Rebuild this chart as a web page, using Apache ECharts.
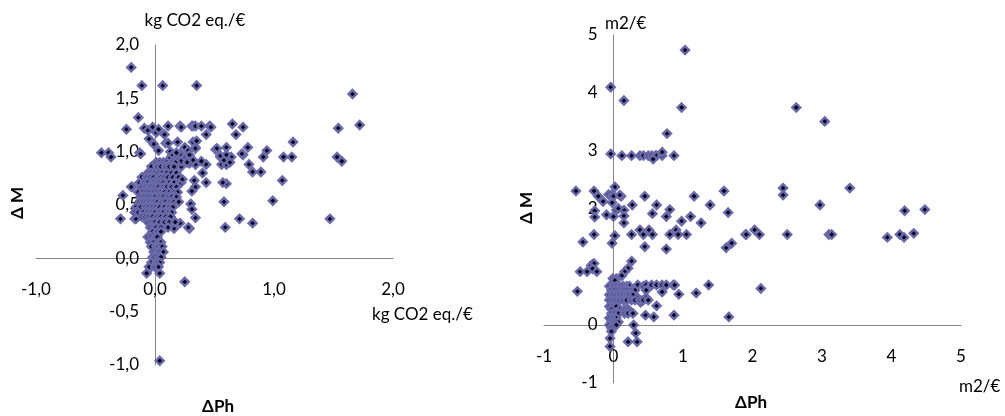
<!DOCTYPE html>
<html>
<head>
<meta charset="utf-8">
<script src="https://cdn.jsdelivr.net/npm/echarts@6/dist/echarts.min.js"></script>
<style>
  html, body { margin: 0; padding: 0; background: #fff; }
  #chart-container { width: 1005px; height: 416px; }
</style>
</head>
<body>
<div id="chart-container"></div>
<script>
// left panel: kg CO2 eq./€  [ΔPh, ΔM]
const ghgPoints = [
  [-0.20, 1.79], [-0.11, 1.62], [0.065, 1.62], [0.35, 1.62], [1.66, 1.54], [1.72, 1.25], [1.54, 1.22],
  [-0.14, 1.32], [-0.24, 1.21], [-0.09, 1.22], [-0.06, 1.20], [-0.02, 1.23], [0.01, 1.18], [0.03, 1.21],
  [0.08, 1.16], [0.11, 1.24], [0.21, 1.24], [0.22, 1.23], [0.31, 1.24], [0.32, 1.24], [0.34, 1.24],
  [0.39, 1.24], [0.46, 1.24], [0.47, 1.23], [0.43, 1.16], [0.65, 1.26], [0.74, 1.23], [0.68, 1.16],
  [1.16, 1.09], [1.53, 0.95], [1.57, 0.91], [1.47, 0.37], [1.08, 0.95], [1.15, 0.95], [1.07, 0.73],
  [0.99, 0.54], [0.94, 1.01], [0.91, 0.95], [0.89, 0.81], [0.82, 0.81], [0.79, 0.88], [0.78, 1.04],
  [0.74, 0.97], [0.73, 0.98], [0.82, 0.33], [0.71, 0.37], [0.59, 0.29], [0.58, 0.53], [0.60, 0.70],
  [0.57, 0.71], [0.60, 1.04], [0.64, 0.95], [0.55, 0.95], [0.56, 0.88], [0.60, 0.88], [0.51, 1.02],
  [0.43, 0.88], [0.39, 0.91], [0.40, 0.80], [0.43, 0.71], [0.34, 0.67], [0.33, 0.73], [0.31, 0.63],
  [0.30, 0.51], [0.31, 0.46], [0.34, 0.38], [0.29, 0.28], [0.21, 0.33], [0.16, 0.28], [0.25, -0.22],
  [0.04, -0.96], [-0.07, -0.14], [0.04, -0.14], [-0.03, -0.08],
  [-0.45, 0.99], [-0.39, 0.99], [-0.37, 0.95], [-0.13, 0.99], [-0.27, 0.59], [-0.29, 0.37],
  [-0.19, 0.67], [-0.17, 0.37], [-0.16, 0.37],
  [-0.05, 1.12], [-0.01, 1.07], [0.09, 1.08], [0.11, 1.08], [0.19, 1.09], [0.03, 1.01], [-0.12, 0.98],
  [0.25, 1.04], [0.28, 1.01], [0.32, 1.09], [0.34, 1.04], [0.35, 1.10], [0.34, 1.03], [0.22, 0.95],
  [0.26, 0.95], [0.29, 0.95], [0.21, 0.98], [0.34, 0.88], [0.29, 0.89], [0.22, 0.86], [0.13, 1.00],
  [0.52, 1.03], [0.55, 0.96], [0.58, 0.92], [0.60, 0.97], [0.63, 0.90],
  [0.14, 0.96], [0.17, 0.93], [0.22, 0.91], [0.29, 0.97], [0.32, 0.92], [0.27, 0.90], [0.18, 0.99],
  [0.15, 0.90], [0.12, 0.93],
  // dense cluster
  [0.01, 0.90], [0.04, 0.90], [0.07, 0.90], [0.10, 0.90], [0.14, 0.90], [0.17, 0.90],
  [-0.03, 0.86], [0.02, 0.86], [0.05, 0.86], [0.09, 0.86], [0.12, 0.86], [0.16, 0.86],
  [-0.06, 0.80], [-0.03, 0.80], [0.00, 0.80], [0.03, 0.80], [0.06, 0.80], [0.10, 0.80], [0.14, 0.80], [0.18, 0.80],
  [-0.11, 0.76], [-0.07, 0.76], [-0.04, 0.76], [-0.01, 0.76], [0.03, 0.76], [0.05, 0.76], [0.08, 0.76],
  [0.11, 0.76], [0.15, 0.76], [0.20, 0.76],
  [-0.13, 0.71], [-0.09, 0.71], [-0.06, 0.71], [-0.02, 0.71], [0.01, 0.71], [0.04, 0.71], [0.07, 0.71],
  [0.12, 0.71], [0.16, 0.71], [0.22, 0.71], [0.23, 0.74],
  [-0.20, 0.67], [-0.11, 0.67], [-0.08, 0.67], [-0.05, 0.67], [-0.03, 0.67], [0.00, 0.67], [0.03, 0.67],
  [0.07, 0.67], [0.10, 0.67], [0.14, 0.67], [0.18, 0.67],
  [-0.14, 0.62], [-0.10, 0.62], [-0.07, 0.62], [-0.04, 0.62], [-0.01, 0.62], [0.02, 0.62], [0.05, 0.62],
  [0.08, 0.62], [0.12, 0.62], [0.16, 0.62], [0.19, 0.62],
  [-0.12, 0.575], [-0.09, 0.575], [-0.06, 0.575], [-0.03, 0.575], [0.00, 0.575], [0.04, 0.575],
  [0.07, 0.575], [0.11, 0.575], [0.14, 0.575], [0.18, 0.575],
  [-0.13, 0.53], [-0.10, 0.53], [-0.07, 0.53], [-0.04, 0.53], [-0.01, 0.53], [0.02, 0.53], [0.06, 0.53],
  [0.09, 0.53], [0.13, 0.53], [0.16, 0.53], [0.20, 0.53],
  [-0.16, 0.48], [-0.12, 0.48], [-0.08, 0.48], [-0.05, 0.48], [-0.02, 0.48], [0.01, 0.48], [0.04, 0.48],
  [0.08, 0.48], [0.12, 0.48], [0.15, 0.48],
  [-0.17, 0.43], [-0.14, 0.43], [-0.10, 0.43], [-0.06, 0.43], [-0.03, 0.43], [0.00, 0.43], [0.04, 0.43],
  [0.07, 0.43], [0.11, 0.43], [0.14, 0.43],
  [-0.11, 0.39], [-0.08, 0.39], [-0.05, 0.39], [-0.02, 0.39], [0.02, 0.39], [0.05, 0.39], [0.09, 0.39], [0.13, 0.39],
  [-0.06, 0.34], [-0.03, 0.34], [0.00, 0.34], [0.04, 0.34], [0.08, 0.34], [0.12, 0.34], [0.17, 0.34],
  [-0.04, 0.29], [-0.01, 0.29], [0.01, 0.29], [0.05, 0.29], [0.11, 0.29], [0.28, 0.29],
  [-0.02, 0.25], [0.02, 0.25], [0.05, 0.25],
  [-0.06, 0.20], [-0.03, 0.20], [0.00, 0.20], [0.02, 0.20],
  [-0.04, 0.15], [-0.01, 0.15], [0.03, 0.15], [0.05, 0.15],
  [-0.03, 0.11], [0.01, 0.11], [0.03, 0.11], [0.06, 0.11],
  [-0.01, 0.06], [0.02, 0.06], [0.04, 0.06], [0.07, 0.06],
  [-0.02, 0.01], [0.00, 0.01], [0.03, 0.01], [0.05, 0.01],
  [-0.03, -0.04], [0.01, -0.04], [0.04, -0.04],
  [-0.05, -0.08], [0.00, -0.08], [0.03, -0.08]
];

// right panel: m2/€  [ΔPh, ΔM]
const landPoints = [
  [1.03, 4.74], [-0.04, 4.10], [0.15, 3.87], [0.98, 3.75], [2.63, 3.75], [3.04, 3.51], [0.77, 3.30],
  [-0.04, 2.95], [0.12, 2.92], [0.26, 2.92], [0.38, 2.92], [0.43, 2.92], [0.50, 2.92], [0.55, 2.92],
  [0.60, 2.92], [0.62, 2.92], [0.70, 2.92], [0.87, 2.92], [0.57, 2.86], [0.70, 2.98],
  [-0.54, 2.31], [-0.28, 2.31], [-0.22, 2.22], [-0.15, 2.13], [-0.27, 1.97], [-0.27, 1.86], [-0.10, 1.90],
  [-0.07, 2.25], [-0.02, 2.25], [0.02, 2.38], [0.00, 2.22], [0.11, 2.22], [-0.02, 2.11], [0.04, 1.98],
  [0.00, 1.87], [0.15, 1.98], [0.15, 1.88], [0.15, 1.76], [0.27, 2.07], [0.45, 2.22], [0.62, 2.07],
  [0.56, 1.92], [0.81, 1.99], [0.76, 1.87], [0.98, 1.79], [1.11, 1.87], [1.16, 2.22], [1.39, 2.07],
  [1.26, 1.76], [1.59, 2.31], [1.65, 1.94], [2.44, 2.36], [2.44, 2.24], [2.97, 2.07], [3.40, 2.36],
  [4.19, 1.97], [4.48, 1.99], [0.09, 2.24], [0.07, 2.01],
  [-0.28, 1.56], [0.02, 1.54], [0.26, 1.56], [0.38, 1.64], [0.43, 1.56], [0.51, 1.64], [0.56, 1.56],
  [0.81, 1.56], [0.90, 1.64], [0.93, 1.56], [1.05, 1.56], [1.90, 1.56], [1.91, 1.56], [2.03, 1.64],
  [2.10, 1.56], [2.50, 1.56], [3.10, 1.56], [3.14, 1.56], [3.94, 1.51], [4.12, 1.56], [4.18, 1.51],
  [4.32, 1.58],
  [-0.02, 1.41], [-0.44, 1.43], [0.45, 1.35], [0.76, 1.31], [1.62, 1.33], [1.70, 1.41], [0.26, 1.10],
  [0.21, 0.98], [0.16, 0.92], [0.12, 0.85],
  [-0.32, 1.03], [-0.28, 1.06], [-0.30, 0.97], [-0.48, 0.92], [-0.38, 0.92], [-0.24, 0.92], [-0.52, 0.58],
  [0.35, 0.69], [0.43, 0.67], [0.47, 0.69], [0.55, 0.69], [0.62, 0.69], [0.70, 0.69], [0.76, 0.69],
  [0.86, 0.69], [0.88, 0.69], [1.37, 0.69], [0.70, 0.57], [0.94, 0.53], [1.19, 0.55], [2.12, 0.63],
  [0.47, 0.60], [0.33, 0.49], [0.39, 0.39], [0.47, 0.47], [0.62, 0.33], [0.46, 0.17], [0.58, 0.14],
  [0.87, 0.17], [1.66, 0.14], [0.29, 0.00], [0.32, -0.14], [0.34, -0.29], [0.21, -0.29],
  [-0.05, -0.23], [-0.05, -0.37],
  // dense cluster
  [-0.01, 0.80], [0.04, 0.80], [0.02, 0.77],
  [-0.06, 0.67], [-0.01, 0.67], [0.04, 0.67], [0.09, 0.67], [0.14, 0.67], [0.19, 0.67], [0.23, 0.67],
  [-0.03, 0.60], [0.02, 0.60], [0.07, 0.60], [0.12, 0.60], [0.16, 0.60], [0.21, 0.60], [0.26, 0.60], [0.31, 0.60],
  [-0.06, 0.52], [-0.01, 0.52], [0.04, 0.52], [0.09, 0.52], [0.14, 0.52], [0.19, 0.52], [0.23, 0.52], [0.28, 0.52],
  [-0.06, 0.43], [-0.01, 0.43], [0.04, 0.43], [0.09, 0.43], [0.14, 0.43], [0.19, 0.43], [0.26, 0.43],
  [0.31, 0.43], [0.38, 0.43], [0.43, 0.43], [0.50, 0.43],
  [-0.06, 0.32], [-0.01, 0.32], [0.04, 0.32],
  [-0.03, 0.27], [0.09, 0.27], [0.16, 0.27], [0.21, 0.27], [0.23, 0.24],
  [-0.03, 0.20], [0.02, 0.20], [0.07, 0.20], [0.16, 0.20], [0.21, 0.20], [0.28, 0.20],
  [-0.06, 0.12], [-0.01, 0.12], [0.04, 0.12],
  [-0.03, 0.05], [0.02, 0.05], [0.07, 0.05],
  [-0.06, 0.00], [-0.01, 0.00], [0.04, 0.00],
  [-0.03, -0.05], [-0.03, -0.11]
];

const ghgRange = { xMin: -1, xMax: 2, xStep: 1, yMin: -1, yMax: 2, yStep: 0.5 };
const landRange = { xMin: -1, xMax: 5, xStep: 1, yMin: -1, yMax: 5, yStep: 1 };

const FONT = 'Lato';
const axisGrey = '#868686';

// plot boxes in pixels, used to put the axes through the origin
const ghgBox = { left: 36, top: 45, width: 357, height: 320 };
const landBox = { left: 544, top: 35, width: 417, height: 348 };

function commaFmt(v) {
  return v.toFixed(1).replace('.', ',');
}

// pixel distance from the bottom / left edge to the zero line
function zeroShiftX(box, r) {
  return box.height * (0 - r.yMin) / (r.yMax - r.yMin);
}
function zeroShiftY(box, r) {
  return box.width * (0 - r.xMin) / (r.xMax - r.xMin);
}

function xAxisOf(idx, r, box, fmt) {
  return {
    type: 'value', gridIndex: idx, min: r.xMin, max: r.xMax, interval: r.xStep,
    position: 'bottom', offset: -zeroShiftX(box, r),
    splitLine: { show: false },
    axisTick: { show: false },
    axisLine: { onZero: false, lineStyle: { color: axisGrey, width: 1 } },
    axisLabel: { margin: 23, color: '#000', fontFamily: FONT, fontSize: 17, formatter: fmt }
  };
}

function yAxisOf(idx, r, box, fmt) {
  return {
    type: 'value', gridIndex: idx, min: r.yMin, max: r.yMax, interval: r.yStep,
    position: 'left', offset: -zeroShiftY(box, r),
    splitLine: { show: false },
    axisTick: { show: false },
    axisLine: { onZero: false, lineStyle: { color: axisGrey, width: 1 } },
    axisLabel: { margin: 16, color: '#000', fontFamily: FONT, fontSize: 17, formatter: fmt }
  };
}

function seriesOf(idx, data) {
  return {
    type: 'scatter', xAxisIndex: idx, yAxisIndex: idx,
    data: data,
    symbol: 'diamond',
    symbolSize: 8,
    itemStyle: { color: '#000018', borderColor: '#6a6aaa', borderWidth: 2.4, opacity: 1 },
    emphasis: { disabled: true },
    silent: true
  };
}

function label(x, y, text, opts) {
  return {
    type: 'text', x: x, y: y, rotation: (opts && opts.rotation) || 0,
    style: {
      text: text, fontFamily: FONT, fontSize: 17,
      fontWeight: (opts && opts.bold) ? 'bold' : 'normal',
      fill: '#000',
      align: (opts && opts.align) || 'center',
      verticalAlign: 'middle'
    }
  };
}

const chart = echarts.init(document.getElementById('chart-container'));

const option = {
  animation: false,
  backgroundColor: '#fff',
  grid: [ghgBox, landBox],
  xAxis: [
    xAxisOf(0, ghgRange, ghgBox, commaFmt),
    xAxisOf(1, landRange, landBox, (v) => String(v))
  ],
  yAxis: [
    yAxisOf(0, ghgRange, ghgBox, commaFmt),
    yAxisOf(1, landRange, landBox, (v) => String(v))
  ],
  series: [
    seriesOf(0, ghgPoints),
    seriesOf(1, landPoints)
  ],
  graphic: [
    label(195, 21, 'kg CO2 eq./€'),
    label(372, 315, 'kg CO2 eq./€', { align: 'left' }),
    label(18, 203, 'Δ M', { bold: true, rotation: Math.PI / 2 }),
    label(218, 407, 'ΔPh', { bold: true }),
    label(605, 24, 'm2/€', { align: 'left' }),
    label(959, 387, 'm2/€', { align: 'left' }),
    label(527, 208, 'Δ M', { bold: true, rotation: Math.PI / 2 }),
    label(751, 403, 'ΔPh', { bold: true })
  ]
};

chart.setOption(option);
</script>
</body>
</html>
